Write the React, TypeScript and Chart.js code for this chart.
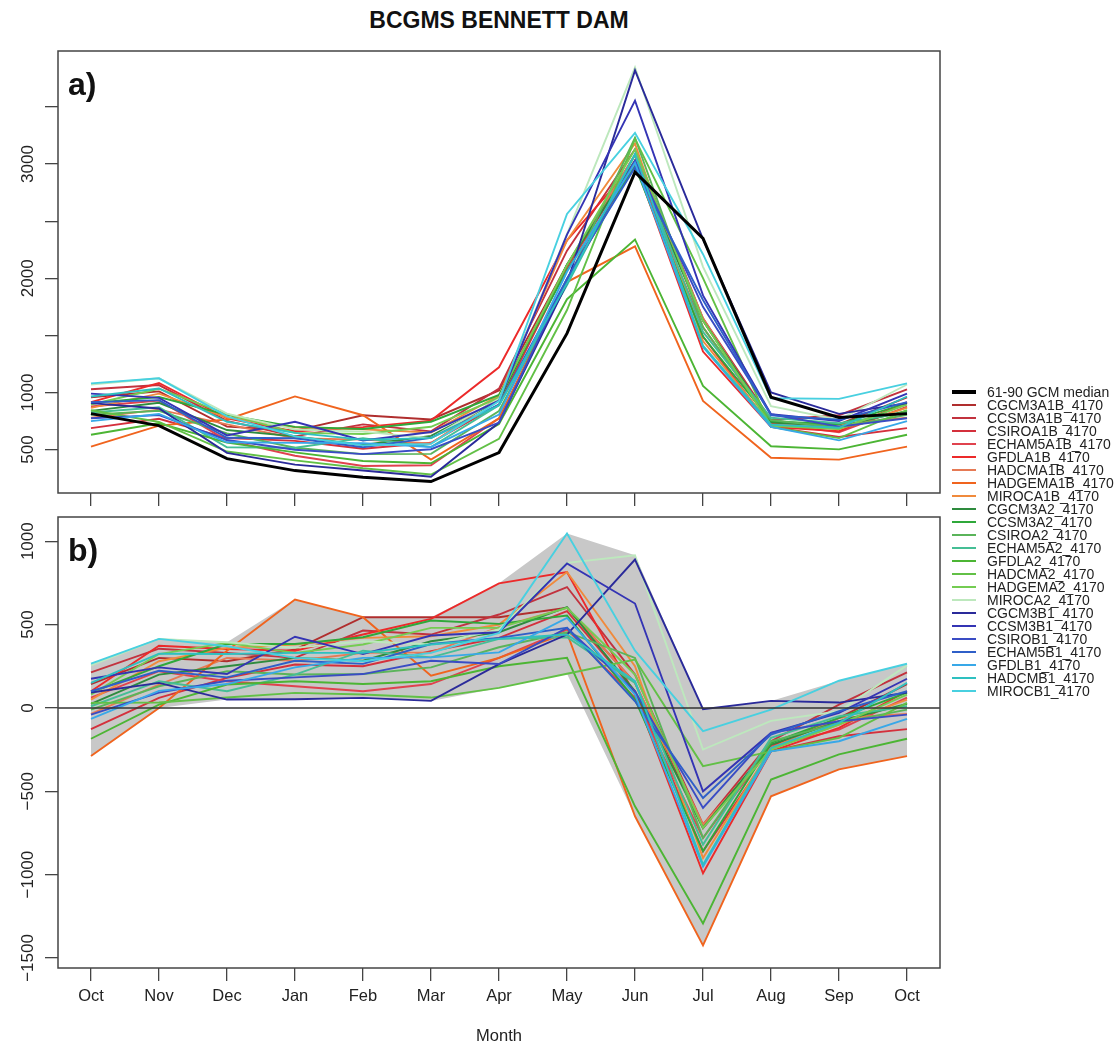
import React, { useEffect, useRef } from 'react';
import { Chart, registerables } from 'chart.js';

Chart.register(...registerables);

const FONT = '"Liberation Sans", Arial, Helvetica, sans-serif';

// ---------- data ----------
const MONTHS = ['Oct', 'Nov', 'Dec', 'Jan', 'Feb', 'Mar', 'Apr', 'May', 'Jun', 'Jul', 'Aug', 'Sep', 'Oct'];

// 1961-90 GCM median flow (panel a, black)
const MEDIAN_6190 = [815, 710, 421, 316, 257, 220, 474, 1517, 2930, 2350, 959, 781, 815];

// 2041-70 change relative to the median (panel b)
const CGCM3A1B = [143, 300, 280, 350, 544, 544, 544, 600, 150, -720, -230, -60, 143];
const CCSM3A1B = [213, 355, 330, 300, 464, 440, 560, 725, 200, -700, -200, 20, 213];
const CSIROA1B = [-127, 60, 180, 260, 250, 340, 420, 580, 100, -860, -260, -170, -127];
const ECHAM5A1B = [62, 220, 160, 130, 100, 143, 300, 470, 60, -780, -230, -130, 62];
const GFDLA1B = [100, 373, 353, 343, 440, 534, 747, 815, 80, -992, -260, -120, 100];
const HADCMA1B = [-36, 140, 300, 283, 330, 333, 484, 600, 150, -700, -240, -60, -36];
const HADGEMA1B = [-289, 0, 343, 650, 544, 193, 300, 450, -650, -1424, -530, -369, -289];
const MIROCA1B = [50, 280, 360, 380, 420, 430, 500, 815, 250, -900, -240, -100, 50];
const CGCM3A2 = [24, 200, 250, 300, 283, 400, 454, 604, 100, -720, -220, -80, 24];
const CCSM3A2 = [92, 250, 383, 383, 424, 524, 504, 554, 50, -860, -210, -60, 92];
const CSIROA2 = [-10, 130, 220, 200, 203, 243, 364, 454, 300, -780, -200, -90, -10];
const ECHAM5A2 = [10, 160, 100, 200, 343, 303, 414, 424, 150, -820, -180, -50, 10];
const GFDLA2 = [-185, 20, 140, 160, 143, 160, 250, 300, -590, -1293, -430, -279, -185];
const HADCMA2 = [30, 32, 62, 90, 80, 62, 120, 205, 290, -349, -261, -180, 30];
const HADGEMA2 = [80, 323, 390, 330, 380, 480, 480, 600, 200, -720, -250, -100, 80];
const MIROCA2 = [255, 414, 394, 360, 400, 380, 470, 870, 915, -250, -78, -20, 255];
const CGCM3B1 = [92, 150, 50, 52, 60, 42, 263, 440, 890, -8, 42, 32, 92];
const CCSM3B1 = [175, 243, 203, 427, 323, 434, 454, 866, 626, -500, -150, -30, 175];
const CSIROB1 = [-40, 92, 163, 183, 203, 283, 263, 480, 100, -600, -150, -80, -40];
const ECHAM5B1 = [100, 223, 183, 283, 264, 383, 420, 480, 40, -540, -160, -20, 100];
const GFDLB1 = [-66, 102, 143, 243, 300, 303, 333, 540, 80, -952, -260, -200, -66];
const HADCMB1 = [150, 325, 323, 330, 330, 380, 414, 440, 160, -940, -240, -90, 150];
const MIROCB1 = [265, 414, 370, 300, 280, 330, 450, 1046, 343, -139, -10, 163, 265];

const MODEL_NAMES = [
  'CGCM3A1B_4170', 'CCSM3A1B_4170', 'CSIROA1B_4170', 'ECHAM5A1B_4170', 'GFDLA1B_4170',
  'HADCMA1B_4170', 'HADGEMA1B_4170', 'MIROCA1B_4170', 'CGCM3A2_4170', 'CCSM3A2_4170',
  'CSIROA2_4170', 'ECHAM5A2_4170', 'GFDLA2_4170', 'HADCMA2_4170', 'HADGEMA2_4170',
  'MIROCA2_4170', 'CGCM3B1_4170', 'CCSM3B1_4170', 'CSIROB1_4170', 'ECHAM5B1_4170',
  'GFDLB1_4170', 'HADCMB1_4170', 'MIROCB1_4170',
];
const MODEL_VALUES = [
  CGCM3A1B, CCSM3A1B, CSIROA1B, ECHAM5A1B, GFDLA1B, HADCMA1B, HADGEMA1B, MIROCA1B,
  CGCM3A2, CCSM3A2, CSIROA2, ECHAM5A2, GFDLA2, HADCMA2, HADGEMA2, MIROCA2,
  CGCM3B1, CCSM3B1, CSIROB1, ECHAM5B1, GFDLB1, HADCMB1, MIROCB1,
];
const MODEL_COLORS = [
  '#B02E2E', '#C2323E', '#D4303C', '#E0424E', '#EC2A2A', '#E67A55', '#F0641E', '#F08A3C',
  '#2E8B3E', '#2FA83A', '#5AB45A', '#45BE95', '#4CB534', '#62C046', '#74CC52', '#BDE8BD',
  '#2A2A9A', '#3434B4', '#3A4CC4', '#2F5FC8', '#38A8E8', '#2EC0C0', '#48D0E0',
];
const MEDIAN_LABEL = '61-90 GCM median';

const Y_TICKS_A = [500, 1000, 1500, 2000, 2500, 3000, 3500];
const Y_LABELS_A = [500, 1000, 2000, 3000];
const Y_TICKS_B = [-1500, -1000, -500, 0, 500, 1000];
const Y_LABELS_B = [-1500, -1000, -500, 0, 500, 1000];

// ---------- helpers ----------
const toPoints = (arr: number[]) => arr.map((y, i) => ({ x: i, y }));
const fmt = (v: number) => (v < 0 ? '\u2212' + Math.abs(v) : String(v));

const framePlugin = {
  id: 'frame',
  afterDatasetsDraw(chart: any, _args: any, opts: any) {
    const { ctx, chartArea: a } = chart;
    const ys = chart.scales.y;
    ctx.save();
    if (opts.zero) {
      const y0 = ys.getPixelForValue(0);
      ctx.strokeStyle = '#333';
      ctx.lineWidth = 1.5;
      ctx.beginPath();
      ctx.moveTo(a.left, y0);
      ctx.lineTo(a.right, y0);
      ctx.stroke();
    }
    ctx.strokeStyle = '#444';
    ctx.lineWidth = 1.5;
    ctx.strokeRect(a.left, a.top, a.right - a.left, a.bottom - a.top);
    ctx.fillStyle = '#111';
    ctx.font = 'bold 32px ' + FONT;
    ctx.textAlign = 'left';
    ctx.textBaseline = 'alphabetic';
    ctx.fillText(opts.tag, a.left + 10, a.top + 44);
    ctx.fillStyle = '#222';
    ctx.font = '17px ' + FONT;
    ctx.textAlign = 'center';
    ctx.textBaseline = 'middle';
    (opts.labels as number[]).forEach((v) => {
      const y = ys.getPixelForValue(v);
      ctx.save();
      ctx.translate(28, y);
      ctx.rotate(-Math.PI / 2);
      ctx.fillText(fmt(v), 0, 0);
      ctx.restore();
    });
    ctx.restore();
  },
};

function xScale(showLabels: boolean, height: number) {
  return {
    type: 'linear',
    min: -0.485,
    max: 12.485,
    afterBuildTicks: (s: any) => {
      s.ticks = MONTHS.map((_, i) => ({ value: i }));
    },
    afterFit: (s: any) => {
      s.height = height;
    },
    grid: { drawOnChartArea: false, drawTicks: true, tickLength: 13, color: '#444', lineWidth: 1.3 },
    border: { display: false },
    ticks: {
      display: showLabels,
      autoSkip: false,
      maxRotation: 0,
      minRotation: 0,
      padding: 6,
      color: '#222',
      font: { family: FONT, size: 16.5 },
      callback: (v: number) => MONTHS[Math.round(v)],
    },
    title: {
      display: showLabels,
      text: 'Month',
      color: '#222',
      font: { family: FONT, size: 16.5 },
      padding: { top: 0, bottom: 1 },
    },
  };
}

function yScale(min: number, max: number, ticks: number[]) {
  return {
    type: 'linear',
    min,
    max,
    afterBuildTicks: (s: any) => {
      s.ticks = ticks.map((v) => ({ value: v }));
    },
    afterFit: (s: any) => {
      s.width = 58;
    },
    grid: { drawOnChartArea: false, drawTicks: true, tickLength: 13, color: '#444', lineWidth: 1.3 },
    border: { display: false },
    ticks: { display: false },
  };
}

function configA() {
  const datasets: any[] = MODEL_VALUES.map((vals, i) => ({
    label: MODEL_NAMES[i],
    data: toPoints(vals.map((d, k) => MEDIAN_6190[k] + d)),
    borderColor: MODEL_COLORS[i],
    borderWidth: 1.9,
    order: 100 - i,
  }));
  datasets.push({
    label: MEDIAN_LABEL,
    data: toPoints(MEDIAN_6190),
    borderColor: '#000',
    borderWidth: 3,
    order: 0,
  });
  return {
    type: 'line',
    data: { datasets },
    options: {
      responsive: false,
      animation: false,
      events: [],
      layout: { padding: { left: 0, top: 51, right: 10, bottom: 0 } },
      elements: { point: { radius: 0 }, line: { tension: 0, fill: false } },
      scales: { x: xScale(false, 19), y: yScale(120, 3990, Y_TICKS_A) },
      plugins: {
        legend: { display: false },
        tooltip: { enabled: false },
        frame: { tag: 'a)', labels: Y_LABELS_A, zero: false },
      },
    },
    plugins: [framePlugin],
  };
}

function configB() {
  const months = MONTHS.map((_, k) => k);
  const envMax = months.map((k) => Math.max(...MODEL_VALUES.map((v) => v[k])));
  const envMin = months.map((k) => Math.min(...MODEL_VALUES.map((v) => v[k])));
  const datasets: any[] = MODEL_VALUES.map((vals, i) => ({
    label: MODEL_NAMES[i],
    data: toPoints(vals),
    borderColor: MODEL_COLORS[i],
    borderWidth: 1.9,
    fill: false,
    order: 100 - i,
  }));
  datasets.push({
    label: 'range max',
    data: toPoints(envMax),
    borderColor: 'rgba(0,0,0,0)',
    borderWidth: 0,
    backgroundColor: 'rgb(200,200,200)',
    fill: '+1',
    order: 1000,
  });
  datasets.push({
    label: 'range min',
    data: toPoints(envMin),
    borderColor: 'rgba(0,0,0,0)',
    borderWidth: 0,
    fill: false,
    order: 1000,
  });
  return {
    type: 'line',
    data: { datasets },
    options: {
      responsive: false,
      animation: false,
      events: [],
      layout: { padding: { left: 0, top: 17, right: 10, bottom: 0 } },
      elements: { point: { radius: 0 }, line: { tension: 0 } },
      scales: { x: xScale(true, 79), y: yScale(-1560, 1145, Y_TICKS_B) },
      plugins: {
        legend: { display: false },
        tooltip: { enabled: false },
        filler: { propagate: false },
        frame: { tag: 'b)', labels: Y_LABELS_B, zero: true },
      },
    },
    plugins: [framePlugin],
  };
}

function Panel(props: { build: () => any; left: number; top: number; width: number; height: number }) {
  const ref = useRef<HTMLCanvasElement | null>(null);
  useEffect(() => {
    const chart = new Chart(ref.current as HTMLCanvasElement, props.build());
    return () => chart.destroy();
  }, []);
  return (
    <canvas
      ref={ref}
      width={props.width}
      height={props.height}
      style={{ position: 'absolute', left: props.left, top: props.top, width: props.width, height: props.height }}
    />
  );
}

function Legend() {
  const rows = [{ name: MEDIAN_LABEL, color: '#000', w: 4 }].concat(
    MODEL_NAMES.map((n, i) => ({ name: n, color: MODEL_COLORS[i], w: 2 }))
  );
  return (
    <div style={{ position: 'absolute', left: 948, top: 385.5 }}>
      {rows.map((r) => (
        <div key={r.name} style={{ display: 'flex', alignItems: 'center', height: 13, whiteSpace: 'nowrap' }}>
          <span style={{ display: 'inline-block', width: 24, height: r.w, background: r.color, marginLeft: 4, marginRight: 11 }} />
          <span style={{ font: '14px ' + FONT, color: '#222', lineHeight: '13px' }}>{r.name}</span>
        </div>
      ))}
    </div>
  );
}

export default function App() {
  return (
    <div style={{ position: 'absolute', left: 0, top: 0, width: 1115, height: 1047, overflow: 'hidden', background: '#fff' }}>
      <div
        style={{
          position: 'absolute', left: 0, top: 8, width: 998, textAlign: 'center',
          font: 'bold 23px ' + FONT, lineHeight: '24px', color: '#111',
        }}
      >
        BCGMS BENNETT DAM
      </div>
      <Panel build={configA} left={0} top={0} width={950} height={512} />
      <Panel build={configB} left={0} top={500} width={950} height={547} />
      <Legend />
    </div>
  );
}
